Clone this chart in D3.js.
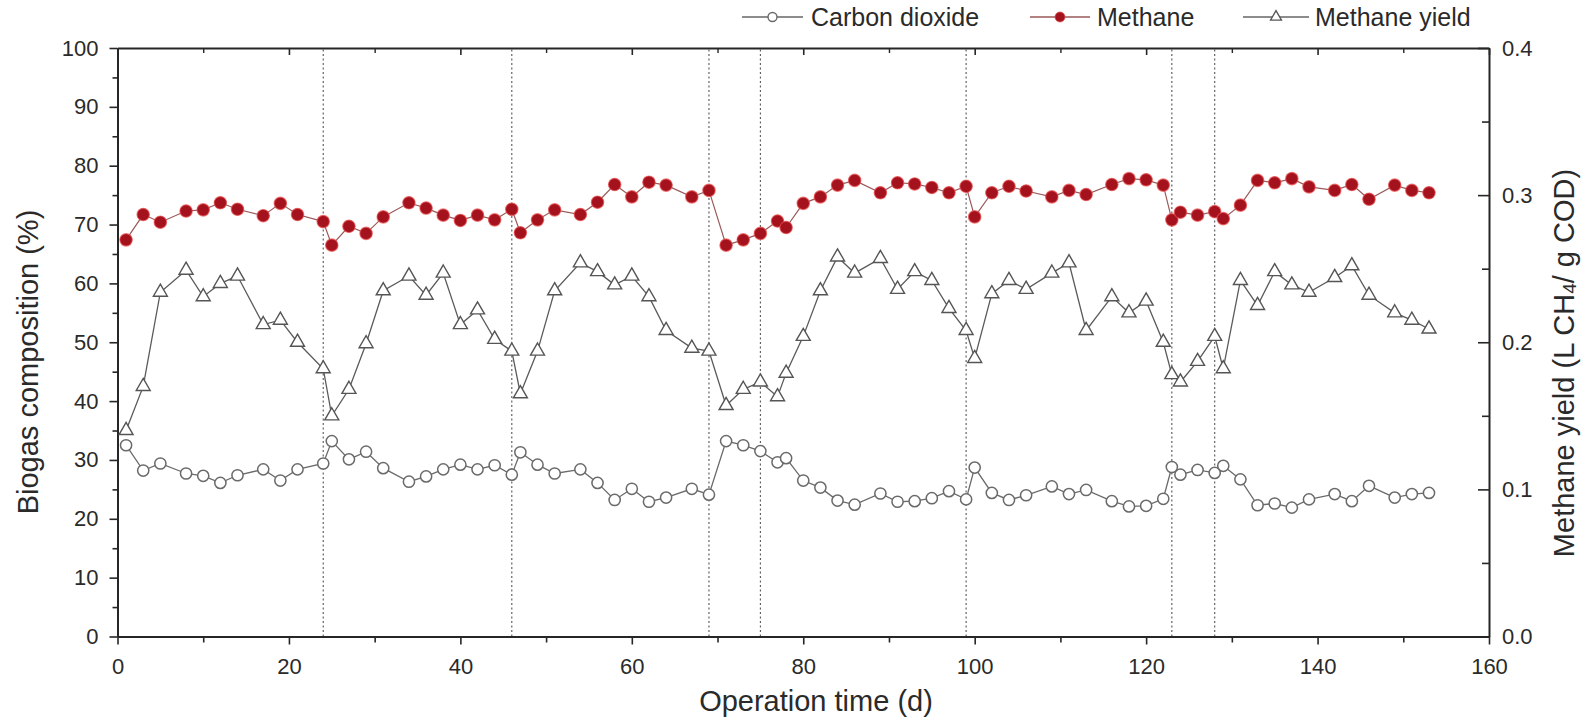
<!DOCTYPE html>
<html>
<head>
<meta charset="utf-8">
<script src="https://cdn.jsdelivr.net/npm/d3@7"></script>
<style>
  html, body { margin: 0; padding: 0; background: #fff; }
  svg { display: block; font-family: "Liberation Sans", Arial, sans-serif; }
</style>
</head>
<body>
<svg id="chart" width="1589" height="720"></svg>
<script>
// ---- Data ----
const days = [1,3,5,8,10,12,14,17,19,21,24,25,27,29,31,34,36,38,40,42,44,46,47,49,51,54,56,58,60,62,64,67,69,71,73,75,77,78,80,82,84,86,89,91,93,95,97,99,100,102,104,106,109,111,113,116,118,120,122,123,124,126,128,129,131,133,135,137,139,142,144,146,149,151,153];

const carbonDioxide = [32.5,28.2,29.4,27.7,27.3,26.1,27.4,28.4,26.5,28.4,29.4,33.2,30.1,31.4,28.6,26.3,27.2,28.4,29.2,28.4,29.1,27.5,31.3,29.2,27.7,28.4,26.1,23.2,25.1,22.9,23.6,25.1,24.1,33.2,32.5,31.5,29.6,30.3,26.5,25.3,23.1,22.4,24.3,22.9,23.0,23.5,24.7,23.3,28.7,24.4,23.2,24.0,25.5,24.2,24.9,23.0,22.1,22.2,23.4,28.8,27.5,28.3,27.8,29.0,26.7,22.3,22.6,21.9,23.3,24.2,23.0,25.6,23.6,24.2,24.4];

const methane = [67.4,71.7,70.4,72.3,72.5,73.7,72.6,71.5,73.6,71.7,70.5,66.5,69.7,68.5,71.3,73.7,72.8,71.6,70.7,71.6,70.8,72.6,68.6,70.8,72.5,71.7,73.8,76.8,74.7,77.2,76.7,74.7,75.8,66.5,67.4,68.5,70.6,69.5,73.6,74.7,76.7,77.5,75.4,77.1,76.9,76.3,75.4,76.5,71.3,75.4,76.5,75.7,74.7,75.8,75.1,76.8,77.8,77.6,76.7,70.8,72.1,71.6,72.2,71.0,73.3,77.5,77.1,77.8,76.4,75.8,76.8,74.3,76.7,75.8,75.4];

const methaneYield = [0.140,0.170,0.234,0.249,0.231,0.240,0.245,0.212,0.215,0.200,0.182,0.150,0.168,0.199,0.235,0.245,0.232,0.247,0.212,0.222,0.202,0.194,0.165,0.194,0.235,0.254,0.248,0.239,0.245,0.231,0.208,0.196,0.194,0.157,0.168,0.173,0.163,0.179,0.204,0.235,0.258,0.247,0.257,0.236,0.248,0.242,0.223,0.208,0.189,0.233,0.242,0.236,0.247,0.254,0.208,0.231,0.220,0.228,0.200,0.178,0.173,0.187,0.204,0.182,0.242,0.225,0.248,0.239,0.234,0.244,0.252,0.232,0.220,0.215,0.209];

const dividerDays = [24, 46, 69, 75, 99, 123, 128];

const xTicks = [0,20,40,60,80,100,120,140,160];
const xMinorTicks = [10,30,50,70,90,110,130,150];
const yTicks = [0,10,20,30,40,50,60,70,80,90,100];
const yMinorTicks = [5,15,25,35,45,55,65,75,85,95];
const y2Ticks = [0.0,0.1,0.2,0.3,0.4];
const y2MinorTicks = [0.05,0.15,0.25,0.35];

const seriesNames = ["Carbon dioxide", "Methane", "Methane yield"];

// ---- Layout ----
const svg = d3.select("#chart");
const plotLeft = 117.5, plotRight = 1489, plotTop = 48, plotBottom = 636.5;

const x = d3.scaleLinear().domain([0,160]).range([plotLeft, plotRight]);
const y = d3.scaleLinear().domain([0,100]).range([plotBottom, plotTop]);
const y2 = d3.scaleLinear().domain([0,0.4]).range([plotBottom, plotTop]);

const axisColor = "#262626";
const fontTick = 22;

// dotted divider lines
svg.append("g").selectAll("line").data(dividerDays).join("line")
  .attr("x1", d => x(d)).attr("x2", d => x(d))
  .attr("y1", y(0)).attr("y2", y(100))
  .attr("stroke", "#555").attr("stroke-width", 1.1)
  .attr("stroke-dasharray", "2,2.5");

function styleAxis(g) {
  g.select(".domain").attr("stroke", axisColor).attr("stroke-width", 2);
  g.selectAll(".tick line").attr("stroke", axisColor).attr("stroke-width", 1.6);
  g.selectAll(".tick text").attr("fill", "#2a2a2a").attr("font-size", fontTick)
    .attr("font-family", '"Liberation Sans", Arial, sans-serif');
}
function minorOnly(g, w) {
  g.select(".domain").remove();
  g.selectAll("line").attr("stroke", axisColor).attr("stroke-width", w);
}

// bottom
const gx = svg.append("g").attr("transform", `translate(0,${plotBottom})`)
  .call(d3.axisBottom(x).tickValues(xTicks).tickFormat(d3.format("d")).tickSize(8).tickSizeOuter(0).tickPadding(14));
styleAxis(gx);
svg.append("g").attr("transform", `translate(0,${plotBottom})`)
  .call(d3.axisBottom(x).tickValues(xMinorTicks).tickFormat("").tickSize(6).tickSizeOuter(0))
  .call(g => minorOnly(g, 1.6));

// top (inward)
const gt = svg.append("g").attr("transform", `translate(0,${plotTop})`)
  .call(d3.axisBottom(x).tickValues(xTicks).tickFormat("").tickSize(7).tickSizeOuter(0));
styleAxis(gt);
svg.append("g").attr("transform", `translate(0,${plotTop})`)
  .call(d3.axisBottom(x).tickValues(xMinorTicks).tickFormat("").tickSize(5).tickSizeOuter(0))
  .call(g => minorOnly(g, 1.4));

// left
const gy = svg.append("g").attr("transform", `translate(${plotLeft},0)`)
  .call(d3.axisLeft(y).tickValues(yTicks).tickFormat(d3.format("d")).tickSize(8).tickSizeOuter(0).tickPadding(11));
styleAxis(gy);
svg.append("g").attr("transform", `translate(${plotLeft},0)`)
  .call(d3.axisLeft(y).tickValues(yMinorTicks).tickFormat("").tickSize(5).tickSizeOuter(0))
  .call(g => minorOnly(g, 1.6));

// right (ticks inward, labels outside)
const gy2 = svg.append("g").attr("transform", `translate(${plotRight},0)`)
  .call(d3.axisRight(y2).tickValues(y2Ticks).tickFormat(d3.format(".1f")).tickSize(0).tickSizeOuter(0).tickPadding(13));
styleAxis(gy2);
svg.append("g").attr("transform", `translate(${plotRight},0)`)
  .call(d3.axisLeft(y2).tickValues(y2Ticks).tickFormat("").tickSize(11).tickSizeOuter(0))
  .call(g => minorOnly(g, 1.6));
svg.append("g").attr("transform", `translate(${plotRight},0)`)
  .call(d3.axisLeft(y2).tickValues(y2MinorTicks).tickFormat("").tickSize(7).tickSizeOuter(0))
  .call(g => minorOnly(g, 1.6));

// axis titles
svg.append("text")
  .attr("transform", `translate(38,362) rotate(-90)`)
  .attr("text-anchor", "middle").attr("font-size", 29).attr("fill", "#2a2a2a")
  .text("Biogas composition (%)");

svg.append("text")
  .attr("x", 816).attr("y", 711)
  .attr("text-anchor", "middle").attr("font-size", 29).attr("fill", "#2a2a2a")
  .text("Operation time (d)");

const rt = svg.append("text")
  .attr("transform", `translate(1553,363) rotate(-90)`)
  .attr("text-anchor", "middle").attr("font-size", 29).attr("fill", "#2a2a2a")
  .attr("dominant-baseline", "hanging");
rt.append("tspan").text("Methane yield (L CH");
rt.append("tspan").attr("font-size", 19).attr("dy", 9).text("4");
rt.append("tspan").attr("dy", -9).text("/ g COD)");

// ---- series ----
const data = days.map((d, i) => ({ day: d, co2: carbonDioxide[i], ch4: methane[i], yld: methaneYield[i] }));

const triPath = (s) => {
  const h = s * Math.sqrt(3) / 2;
  return `M0,${-2*h/3}L${s/2},${h/3}L${-s/2},${h/3}Z`;
};

// methane yield
svg.append("path").datum(data)
  .attr("fill", "none").attr("stroke", "#5a5a5a").attr("stroke-width", 1.3)
  .attr("d", d3.line().x(d => x(d.day)).y(d => y2(d.yld)));
svg.append("g").selectAll("path").data(data).join("path")
  .attr("transform", d => `translate(${x(d.day)},${y2(d.yld)})`)
  .attr("d", triPath(14))
  .attr("fill", "#fff").attr("stroke", "#555").attr("stroke-width", 1.4);

// carbon dioxide
svg.append("path").datum(data)
  .attr("fill", "none").attr("stroke", "#6a6a6a").attr("stroke-width", 1.3)
  .attr("d", d3.line().x(d => x(d.day)).y(d => y(d.co2)));
svg.append("g").selectAll("circle").data(data).join("circle")
  .attr("cx", d => x(d.day)).attr("cy", d => y(d.co2)).attr("r", 5.6)
  .attr("fill", "#fff").attr("stroke", "#6a6a6a").attr("stroke-width", 1.5);

// methane
svg.append("path").datum(data)
  .attr("fill", "none").attr("stroke", "#9a5a5a").attr("stroke-width", 1.2)
  .attr("d", d3.line().x(d => x(d.day)).y(d => y(d.ch4)));
svg.append("g").selectAll("circle").data(data).join("circle")
  .attr("cx", d => x(d.day)).attr("cy", d => y(d.ch4)).attr("r", 6.2)
  .attr("fill", "#a3121d").attr("stroke", "#e84a4a").attr("stroke-width", 1.2)
  .attr("stroke-opacity", 0.7);

// ---- legend ----
const legend = svg.append("g").attr("font-size", 25).attr("fill", "#2a2a2a");
const legY = 17;
const legItems = [
  { name: seriesNames[0], x1: 742, x2: 803, tx: 811, type: "circle" },
  { name: seriesNames[1], x1: 1030, x2: 1090, tx: 1097, type: "dot" },
  { name: seriesNames[2], x1: 1243, x2: 1309, tx: 1315, type: "tri" }
];
legItems.forEach(it => {
  const g = legend.append("g");
  g.append("line").attr("x1", it.x1).attr("x2", it.x2).attr("y1", legY).attr("y2", legY)
    .attr("stroke", it.type === "dot" ? "#9a5a5a" : "#666").attr("stroke-width", 1.3);
  const cx = (it.x1 + it.x2) / 2;
  if (it.type === "circle") {
    g.append("circle").attr("cx", cx).attr("cy", legY).attr("r", 4.5)
      .attr("fill", "#fff").attr("stroke", "#6a6a6a").attr("stroke-width", 1.4);
  } else if (it.type === "dot") {
    g.append("circle").attr("cx", cx).attr("cy", legY).attr("r", 5)
      .attr("fill", "#a3121d").attr("stroke", "#e84a4a").attr("stroke-width", 1).attr("stroke-opacity", 0.7);
  } else {
    g.append("path").attr("transform", `translate(${cx},${legY})`).attr("d", triPath(11))
      .attr("fill", "#fff").attr("stroke", "#555").attr("stroke-width", 1.3);
  }
  g.append("text").attr("x", it.tx).attr("y", legY + 9).text(it.name);
});
</script>
</body>
</html>
